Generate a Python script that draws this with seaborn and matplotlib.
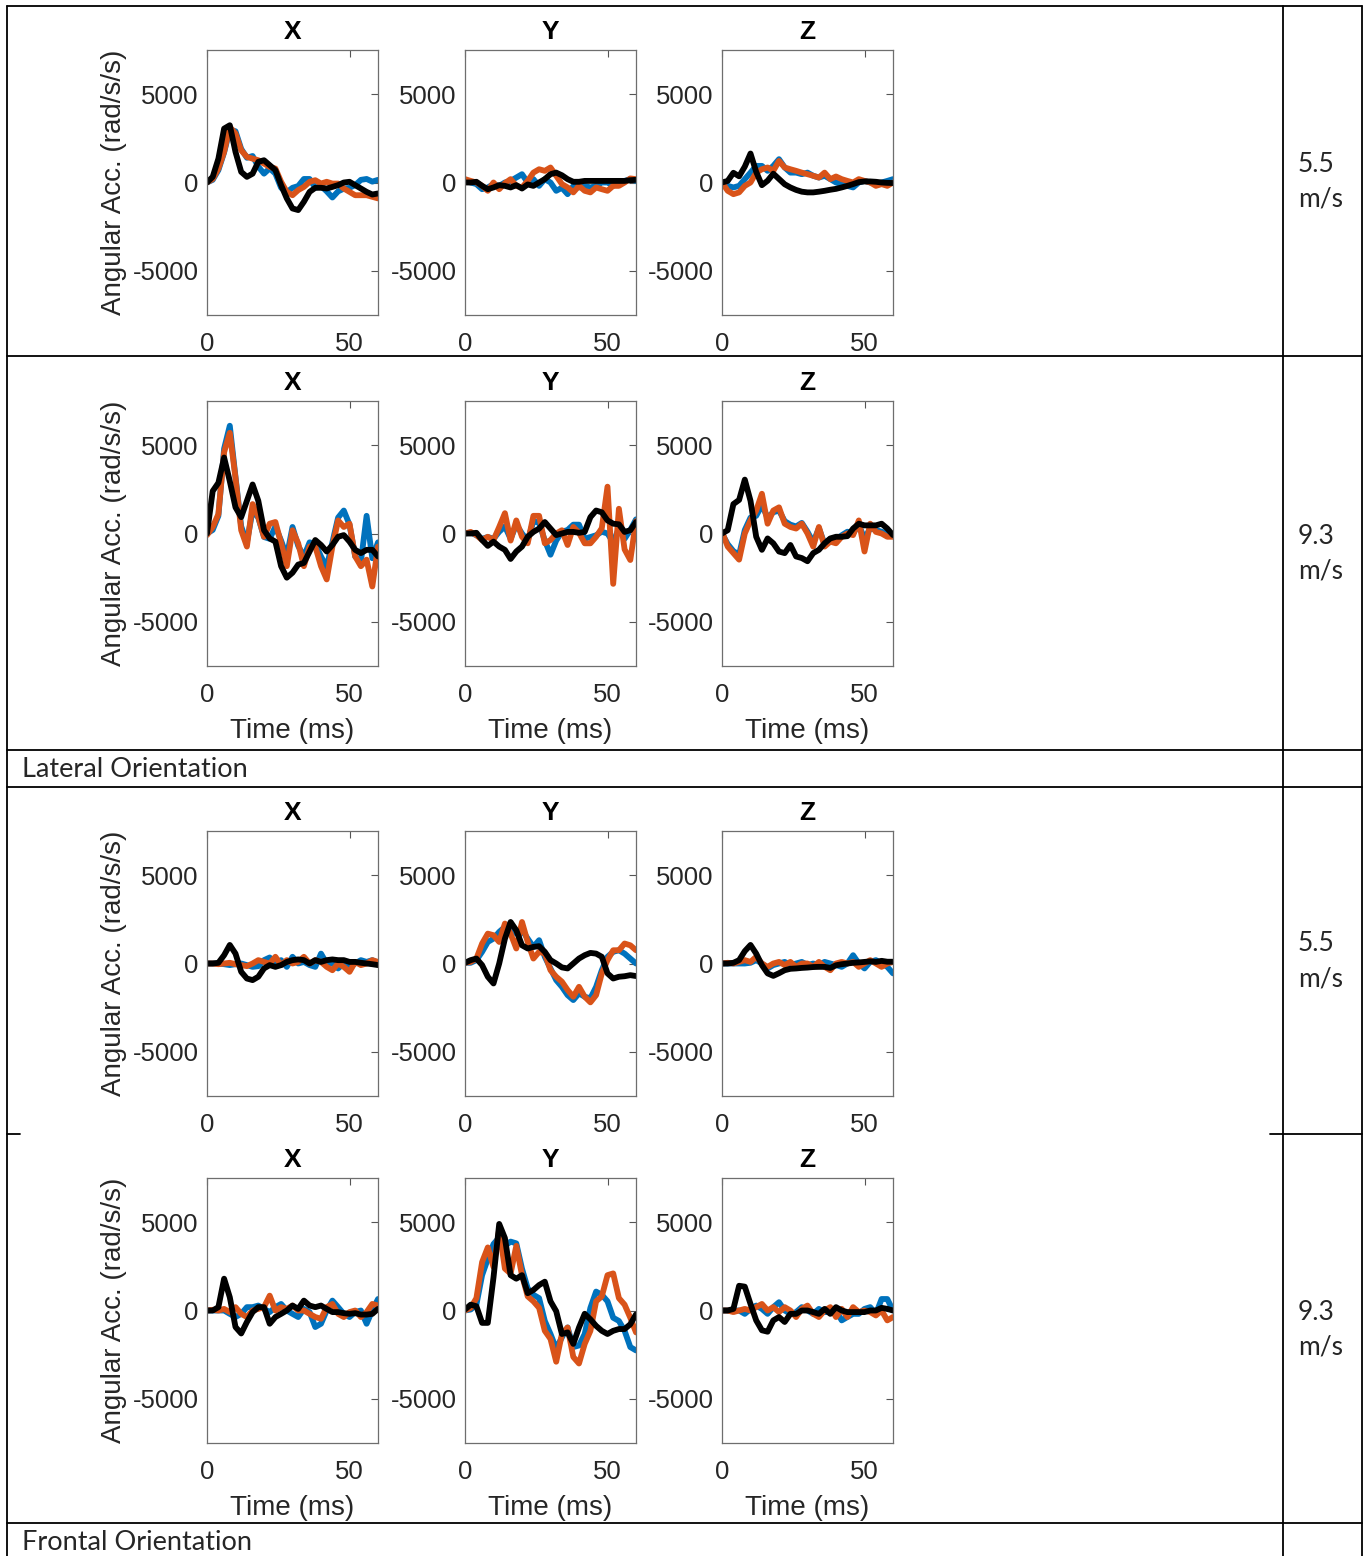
import matplotlib
matplotlib.use("Agg")
import matplotlib.pyplot as plt
import seaborn as sns
from matplotlib.lines import Line2D

sns.set_style("white")
plt.rcParams['font.family'] = ['Liberation Sans', 'DejaVu Sans']
plt.rcParams['axes.unicode_minus'] = False

W, H = 1369, 1556

# ---------------- data ----------------
TIME = list(range(0, 61, 2))          # ms
AXIS_NAMES = ["X", "Y", "Z"]
SPEED_LABELS = ["5.5\nm/s", "9.3\nm/s", "5.5\nm/s", "9.3\nm/s"]
ORIENTATION_LABELS = ["Lateral Orientation", "Frontal Orientation"]
XTICKS = [0, 50]
YTICKS = [-5000, 0, 5000]
YLABEL = "Angular Acc. (rad/s/s)"
XLABEL = "Time (ms)"

# Lateral 5.5 m/s
lat55_x_blue = [0, 150, 700, 1700, 3000, 2900, 1900, 1400, 1500, 900, 500, 800, 500, -300, -550, -300, -200, 200, 200, -300, -200, -500, -850, -500, -350, -300, -150, 150, 200, 50, 150]
lat55_x_orange = [0, 200, 790, 1730, 3140, 2770, 1820, 1450, 1350, 1260, 1070, 880, 790, 40, -530, -720, -430, -250, 40, 130, -60, 40, -60, -60, -340, -530, -720, -720, -720, -810, -900]
lat55_x_black = [0, 320, 1350, 3050, 3240, 1730, 600, 320, 500, 1170, 1260, 980, 700, -150, -900, -1470, -1560, -1090, -530, -300, -300, -340, -250, -150, 0, 40, -150, -340, -530, -680, -620]
lat55_y_blue = [90, 0, -90, -380, -280, -90, -190, 0, 90, 280, 470, 0, 190, -190, 190, 0, -470, -300, -660, -200, -280, -190, -280, -190, 0, 0, -190, 0, 90, 190, 90]
lat55_y_orange = [190, 90, 0, -190, -470, 0, -380, -40, 190, -190, -280, 90, 560, 750, 660, 850, 380, -90, -280, -560, -190, -470, -560, -280, -380, -470, -190, -190, 0, 230, 190]
lat55_y_black = [0, 0, 40, -190, -380, -280, -150, -190, -280, -150, -340, -110, -190, 0, 190, 470, 560, 410, 190, 40, 40, 90, 90, 90, 90, 90, 90, 90, 90, 130, 150]
lat55_z_blue = [0, -190, -280, -190, 190, 560, 940, 940, 660, 940, 1320, 850, 560, 560, 470, 560, 380, 280, 380, 190, 0, -90, -190, -280, 0, 90, 0, -90, 0, 90, 190]
lat55_z_orange = [0, -470, -660, -560, -190, 0, 560, 750, 850, 660, 1220, 850, 750, 660, 560, 470, 380, 280, 560, 190, 340, 190, 90, 0, 190, 90, 0, -190, -90, -190, 0]
lat55_z_black = [0, 90, 550, 350, 900, 1640, 600, -150, 100, 500, 200, -100, -280, -420, -520, -560, -560, -520, -470, -410, -360, -280, -190, -90, 20, 60, 60, 40, 0, -20, -30]

# Lateral 9.3 m/s
lat93_x_blue = [0, 200, 1000, 4800, 6100, 3200, 400, -500, 1300, 900, -200, -300, 400, -400, -1300, 370, -700, -1300, -500, -600, -1300, -1900, -500, 900, 1300, 500, -1300, -1600, 1000, -1400, -500]
lat93_x_orange = [-90, 370, 1100, 4600, 5700, 3150, 185, -740, 1665, 925, -185, 555, 650, -555, -1850, 185, -555, -1850, -740, -740, -1850, -2600, -740, 740, 370, 555, -1300, -1850, -1480, -3000, -740]
lat93_x_black = [0, 2400, 2870, 4300, 2960, 1480, 925, 1850, 2775, 1850, 185, -280, -460, -1850, -2500, -2220, -1760, -1665, -1020, -370, -650, -1020, -650, -185, -90, -460, -925, -1110, -925, -925, -1300]
lat93_y_blue = [0, 50, -100, -300, -200, -300, 100, 400, -300, 500, 0, -400, 700, 600, -400, -1200, -400, 100, 200, 500, 500, -300, -200, -100, 100, 0, -500, 300, -300, 200, 800]
lat93_y_orange = [0, 90, -90, -370, -185, -370, 370, 1150, -400, 740, -185, -555, 1000, 1000, -555, -370, 0, 185, -650, 370, 40, -555, -555, -185, 300, 2650, -2850, 1400, -900, -1500, 700]
lat93_y_black = [0, 0, 40, -370, -700, -460, -740, -925, -1440, -1020, -740, -185, 90, 280, 650, 280, -90, 0, 90, 90, 40, 90, 925, 1300, 1200, 740, 555, 520, 90, 185, 650]
lat93_z_blue = [0, -600, -1000, -1200, 200, 900, 1000, 1600, 900, 1200, 1300, 700, 500, 400, 600, 100, -500, 300, -600, -300, -400, -100, 100, 0, 500, -300, 300, 200, 100, 0, -100]
lat93_z_orange = [90, -740, -1110, -1480, 0, 740, 1300, 2250, 555, 1300, 1480, 555, 370, 280, 555, 0, -740, 370, -740, -460, -555, -185, 0, -90, 740, -1020, 555, 90, 0, -185, -185]
lat93_z_black = [0, 185, 1665, 1900, 3050, 1850, -185, -925, -280, -555, -1020, -1110, -650, -1300, -1390, -1570, -1110, -925, -555, -280, -185, -185, -150, 280, 555, 460, 460, 460, 555, 280, -90]

# Frontal 5.5 m/s
fr55_x_blue = [0, 0, 0, -40, -90, -40, 0, -90, -190, -150, 190, 340, 0, 190, -190, 380, 0, 90, -90, -190, 560, 0, 0, -280, 0, -190, 0, 190, 90, 190, 40]
fr55_x_orange = [0, 0, -40, 0, 40, -40, -90, -150, 0, 190, 90, 0, 380, -90, 190, 0, 90, 380, 0, 190, 90, -190, -380, 0, -190, -470, 90, -90, 0, 190, 90]
fr55_x_black = [0, 0, 40, 470, 1050, 560, -470, -850, -940, -750, -280, -90, -190, -90, 90, 190, 230, 190, 0, 190, 90, 190, 230, 190, 190, 90, 90, 40, 0, -40, -90]
fr55_y_blue = [40, 40, 190, 660, 1220, 1410, 1790, 2070, 2260, 1690, 1880, 1410, 940, 1320, 380, -280, -940, -1320, -1790, -2070, -1690, -1880, -1970, -1320, -380, 380, 660, 750, 560, 280, 0]
fr55_y_orange = [40, 90, 280, 1130, 1690, 1600, 1220, 2260, 1690, 850, 2350, 1220, 280, 660, 560, -380, -750, -1030, -1500, -1880, -1320, -1880, -2200, -1790, -560, 190, 750, 750, 1130, 1030, 750]
fr55_y_black = [40, 190, 280, -90, -750, -1130, 0, 1400, 2350, 1880, 1030, 850, 940, 980, 660, 190, 0, -220, -280, 0, 280, 470, 600, 560, 380, -560, -850, -750, -720, -660, -710]
fr55_z_blue = [0, 0, 0, 0, 0, 40, 190, 0, -280, -90, 0, 90, -90, 0, 90, -90, 0, -90, 90, 0, -90, -190, 0, 470, 0, -280, 90, 190, 0, -190, -560]
fr55_z_orange = [0, 40, 0, 90, 190, 90, 380, 0, -190, 0, 90, -90, 90, -190, 0, 0, -190, 90, -190, -380, 0, 90, 0, 90, -190, 0, 190, 0, -190, 0, 90]
fr55_z_black = [0, 0, 40, 190, 700, 1050, 560, -90, -560, -700, -550, -380, -300, -280, -250, -230, -200, -190, -190, -250, -100, -40, 0, 40, 60, 90, 120, 90, 150, 100, 100]

# Frontal 9.3 m/s
fr93_x_blue = [0, 0, 0, 0, -190, -370, -190, 190, 190, 280, 90, -90, 190, 370, 0, -190, -370, 90, -90, -935, -750, 0, 560, 190, -190, -370, -90, 0, -750, 0, 650]
fr93_x_orange = [0, 40, 0, 90, -90, 190, -190, -370, 0, 90, 190, 840, 0, 190, 90, 280, 0, 0, -190, -370, -470, 190, 370, -190, -370, -90, 0, -370, -90, 370, 280]
fr93_x_black = [0, 0, 190, 1800, 750, -935, -1300, -650, -90, 190, 190, -750, -370, -190, 0, 280, 90, 560, 280, 190, 280, 90, -90, -90, -150, -190, -150, -230, -230, -190, 90]
fr93_y_blue = [0, 55, 330, 2000, 2920, 3760, 4130, 3660, 3900, 3800, 2370, 1260, 890, 700, -590, -1330, -2160, -1520, -960, -2070, -1980, -1330, 150, 1070, 890, 520, -410, -590, -1150, -2070, -2260]
fr93_y_orange = [0, 150, 700, 2740, 3570, 2460, 4590, 2370, 2090, 3660, 2000, 800, 520, 150, -1150, -1610, -2900, -1330, -960, -2630, -3000, -1890, -1150, 520, 800, 2000, 2100, 700, 330, -410, -1240]
fr93_y_black = [55, 330, 240, -700, -700, 1870, 4900, 4100, 2000, 1800, 2000, 980, 1160, 1440, 1630, 520, -40, -1330, -1240, -1890, -960, -185, -500, -870, -1150, -1330, -1150, -1050, -1050, -780, -220]
fr93_z_blue = [0, 0, 0, 0, -190, 90, 280, 90, -190, 190, 470, 0, -190, -90, 190, 0, -190, 90, -90, -90, 0, -560, -370, -190, -190, 90, 190, -190, 650, 650, 0]
fr93_z_orange = [0, 0, -90, 0, 90, 0, 190, 370, 0, 190, -90, 190, 0, -370, 90, 280, -190, -370, 0, 190, -370, 90, -370, 190, -90, 0, -90, -280, 0, -560, -370]
fr93_z_black = [0, 0, 90, 1400, 1350, 370, -560, -1120, -1200, -560, -370, -650, -190, -190, 0, 0, -90, -190, 90, -190, 190, 0, -90, -90, -90, -90, 0, 0, 150, 90, 0]

ROWS = [
    [(lat55_x_blue, lat55_x_orange, lat55_x_black), (lat55_y_blue, lat55_y_orange, lat55_y_black), (lat55_z_blue, lat55_z_orange, lat55_z_black)],
    [(lat93_x_blue, lat93_x_orange, lat93_x_black), (lat93_y_blue, lat93_y_orange, lat93_y_black), (lat93_z_blue, lat93_z_orange, lat93_z_black)],
    [(fr55_x_blue, fr55_x_orange, fr55_x_black), (fr55_y_blue, fr55_y_orange, fr55_y_black), (fr55_z_blue, fr55_z_orange, fr55_z_black)],
    [(fr93_x_blue, fr93_x_orange, fr93_x_black), (fr93_y_blue, fr93_y_orange, fr93_y_black), (fr93_z_blue, fr93_z_orange, fr93_z_black)],
]

# ---------------- layout ----------------
COLORS = ["#0072BD", "#D95319", "black"]
COL_LEFT = [207, 465, 722]
AX_W = 171
ROW_TOP = [50, 401, 831, 1178]
AX_H = 265
SHOW_XLABEL = [False, True, False, True]
TICK_COLOR = "#262626"

fig = plt.figure(figsize=(W / 100, H / 100), dpi=100)
fig.patch.set_facecolor("white")

for r, row in enumerate(ROWS):
    for c, series in enumerate(row):
        l = COL_LEFT[c] / W
        b = 1 - (ROW_TOP[r] + AX_H) / H
        ax = fig.add_axes([l, b, AX_W / W, AX_H / H])
        for vals, col in zip(series, COLORS):
            sns.lineplot(x=TIME, y=vals, ax=ax, color=col, linewidth=4.2,
                         legend=False, solid_capstyle="round", solid_joinstyle="round")
        ax.set_xlim(0, 60)
        ax.set_ylim(-7500, 7500)
        ax.set_xticks(XTICKS)
        ax.set_yticks(YTICKS)
        ax.tick_params(direction="in", length=5, width=0.8, top=True, right=True,
                       color="#555555", labelcolor=TICK_COLOR, labelsize=18.5)
        ax.tick_params(axis="x", pad=12.5)
        ax.tick_params(axis="y", pad=6)
        for sp in ax.spines.values():
            sp.set_visible(True)
            sp.set_color("#6e6e6e")
            sp.set_linewidth(0.9)
        ax.set_title(AXIS_NAMES[c], fontsize=19, fontweight="bold", pad=8, color="black")
        if c == 0:
            ax.set_ylabel(YLABEL, fontsize=20, color=TICK_COLOR, labelpad=4)
        else:
            ax.set_ylabel("")
        if SHOW_XLABEL[r]:
            ax.set_xlabel(XLABEL, fontsize=20, color=TICK_COLOR, labelpad=8)
        else:
            ax.set_xlabel("")


def hline(y, x1, x2, lw=1.3):
    fig.add_artist(Line2D([x1 / W, x2 / W], [1 - y / H, 1 - y / H],
                          transform=fig.transFigure, color="black", lw=lw))


def vline(x, y1, y2, lw=1.3):
    fig.add_artist(Line2D([x / W, x / W], [1 - y1 / H, 1 - y2 / H],
                          transform=fig.transFigure, color="black", lw=lw))


for y in [6, 356, 750, 787, 1523]:
    hline(y, 7, 1362)
hline(1134, 7, 20)
hline(1134, 1270, 1362)
for x in [7, 1283, 1362]:
    vline(x, 6, 1556)

TXT_FONT = ["Lato", "DejaVu Sans"]
SPEED_Y = [182, 554, 961, 1330]
for lab, y in zip(SPEED_LABELS, SPEED_Y):
    fig.text(1298 / W, 1 - y / H, lab, fontsize=19, family=TXT_FONT,
             ha="left", va="center", linespacing=1.5)

for lab, y in zip(ORIENTATION_LABELS, [769, 1542]):
    fig.text(22 / W, 1 - y / H, lab, fontsize=19.5, family=TXT_FONT,
             ha="left", va="center")

fig.savefig("out.png", dpi=100, facecolor="white")
